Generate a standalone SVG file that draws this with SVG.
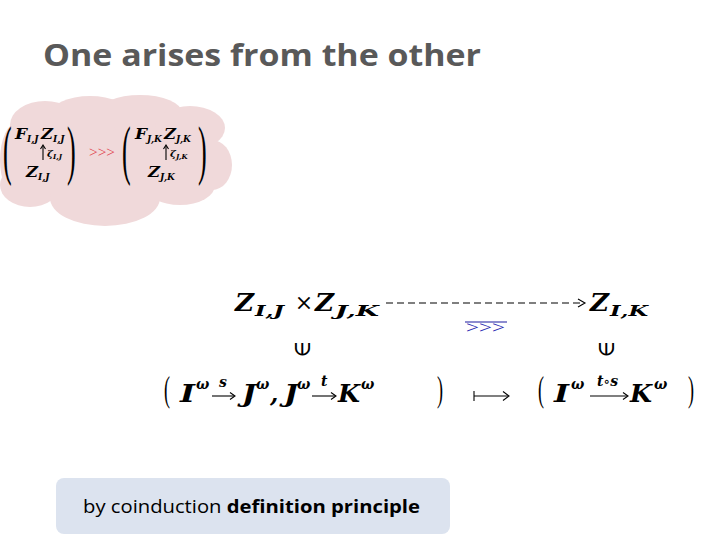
<svg xmlns="http://www.w3.org/2000/svg" width="720" height="540" viewBox="0 0 720 540">
<style>
.title{font-family:"Open Sans","Liberation Sans",sans-serif;font-weight:bold;font-size:30px;fill:#595959}
.m{font-family:"DejaVu Serif","Liberation Serif",serif;font-weight:bold;font-style:italic;fill:#000}
.r{font-family:"DejaVu Serif","Liberation Serif",serif;fill:#000}
.big{font-size:24px}
.sub{font-size:15px}
.sup{font-size:14px}
.cm{font-size:14px}
.cs{font-size:9px}
.par{font-family:"Liberation Serif",serif;font-weight:normal;fill:#000}
.ln{stroke:#000;stroke-width:1.1;fill:none}
.cap{font-family:"Open Sans","Liberation Sans",sans-serif;font-size:18px;fill:#000}
</style>
<rect width="720" height="540" fill="#fff"/>
<text class="title" x="43" y="66" textLength="438" lengthAdjust="spacingAndGlyphs">One arises from the other</text>

<g id="cloud">
<g fill="#f0d9da">
<ellipse cx="115" cy="158" rx="108" ry="45"/>
<ellipse cx="45" cy="125" rx="35" ry="24"/>
<ellipse cx="90" cy="115" rx="40" ry="19"/>
<ellipse cx="140" cy="113" rx="42" ry="18"/>
<ellipse cx="190" cy="128" rx="35" ry="22"/>
<ellipse cx="212" cy="165" rx="20" ry="25"/>
<ellipse cx="18" cy="160" rx="18" ry="38"/>
<ellipse cx="30" cy="185" rx="30" ry="22"/>
<ellipse cx="105" cy="198" rx="55" ry="28"/>
<ellipse cx="180" cy="185" rx="35" ry="20"/>
</g>
<g>
<text class="par" x="0" y="0" font-size="26" transform="translate(3,172) scale(1,2.5)">(</text>
<text class="m cm" x="15" y="139" textLength="12" lengthAdjust="spacingAndGlyphs">F</text>
<text class="m cs" x="27" y="142">I,J</text>
<text class="m cm" x="41" y="139" textLength="12" lengthAdjust="spacingAndGlyphs">Z</text>
<text class="m cs" x="53" y="142">I,J</text>
<line class="ln" x1="43" y1="160" x2="43" y2="146" stroke-width="0.8"/>
<path d="M40.5,149 L43,145 L45.5,149" class="ln" stroke-width="0.8"/>
<text class="m" x="47" y="157" font-size="10">ζ</text>
<text class="m" x="53" y="159" font-size="7">I,J</text>
<text class="m cm" x="26" y="177" textLength="12" lengthAdjust="spacingAndGlyphs">Z</text>
<text class="m cs" x="38" y="180">I,J</text>
<text class="par" x="0" y="0" font-size="26" transform="translate(67,172) scale(1,2.5)">)</text>
<text x="89" y="157" font-family="Liberation Serif,serif" font-size="14" fill="#e0404a" textLength="26" lengthAdjust="spacingAndGlyphs">&gt;&gt;&gt;</text>
<text class="par" x="0" y="0" font-size="26" transform="translate(122,172) scale(1,2.5)">(</text>
<text class="m cm" x="135" y="139" textLength="12" lengthAdjust="spacingAndGlyphs">F</text>
<text class="m cs" x="147" y="142">J,K</text>
<text class="m cm" x="164" y="139" textLength="12" lengthAdjust="spacingAndGlyphs">Z</text>
<text class="m cs" x="176" y="142">J,K</text>
<line class="ln" x1="166" y1="160" x2="166" y2="146" stroke-width="0.8"/>
<path d="M163.5,149 L166,145 L168.5,149" class="ln" stroke-width="0.8"/>
<text class="m" x="170" y="157" font-size="10">ζ</text>
<text class="m" x="176" y="159" font-size="7">J,K</text>
<text class="m cm" x="148" y="177" textLength="12" lengthAdjust="spacingAndGlyphs">Z</text>
<text class="m cs" x="160" y="180">J,K</text>
<text class="par" x="0" y="0" font-size="26" transform="translate(198,172) scale(1,2.5)">)</text>
</g>
</g>

<g id="top-left">
<text class="m big" x="235" y="311" textLength="19" lengthAdjust="spacingAndGlyphs">Z</text>
<text class="m sub" x="255" y="316" textLength="29" lengthAdjust="spacingAndGlyphs">I,J</text>
<text class="r" x="304" y="310" font-size="22" text-anchor="middle">×</text>
<text class="m big" x="315" y="311" textLength="19" lengthAdjust="spacingAndGlyphs">Z</text>
<text class="m sub" x="335" y="316" textLength="44" lengthAdjust="spacingAndGlyphs">J,K</text>
</g>
<g id="top-right">
<text class="m big" x="590" y="311" textLength="19" lengthAdjust="spacingAndGlyphs">Z</text>
<text class="m sub" x="610" y="316" textLength="38" lengthAdjust="spacingAndGlyphs">I,K</text>
</g>

<g id="connectors">
<line x1="386" y1="303" x2="580" y2="303" stroke="#000" stroke-width="1.1" stroke-dasharray="7,4"/>
<path d="M578,299 L585,303 L578,307" class="ln"/>
<line x1="465" y1="322" x2="507" y2="322" stroke="#1a1aa0" stroke-width="1.2"/>
<text x="466" y="333" font-family="Liberation Serif,serif" font-size="17" fill="#2a2ab0" textLength="39" lengthAdjust="spacingAndGlyphs">&gt;&gt;&gt;</text>
</g>

<g id="in-symbols">
<text class="r" x="0" y="0" font-size="24" transform="translate(310,349) rotate(-90)" text-anchor="middle">∈</text>
<text class="r" x="0" y="0" font-size="24" transform="translate(614,349) rotate(-90)" text-anchor="middle">∈</text>
</g>

<g id="bottom-left">
<text class="par" x="0" y="0" font-size="18" transform="translate(164,401) scale(1,2)">(</text>
<text class="m big" x="180" y="402" textLength="15" lengthAdjust="spacingAndGlyphs">I</text>
<text class="m sup" x="196" y="389">ω</text>
<line class="ln" x1="212" y1="396" x2="234" y2="396"/>
<path d="M230,392.5 L235,396 L230,399.5" class="ln"/>
<text class="m" x="219" y="387" font-size="14">s</text>
<text class="m big" x="242" y="402" textLength="14" lengthAdjust="spacingAndGlyphs">J</text>
<text class="m sup" x="256" y="389">ω</text>
<text class="m big" x="270" y="402">,</text>
<text class="m big" x="284" y="402" textLength="14" lengthAdjust="spacingAndGlyphs">J</text>
<text class="m sup" x="297" y="389">ω</text>
<line class="ln" x1="312" y1="396" x2="335" y2="396"/>
<path d="M331,392.5 L336,396 L331,399.5" class="ln"/>
<text class="m" x="321" y="386" font-size="14">t</text>
<text class="m big" x="338" y="402" textLength="22" lengthAdjust="spacingAndGlyphs">K</text>
<text class="m sup" x="361" y="389">ω</text>
<text class="par" x="0" y="0" font-size="18" transform="translate(437,401) scale(1,2)">)</text>
</g>

<g id="mapsto">
<line class="ln" x1="474" y1="391" x2="474" y2="401"/>
<line class="ln" x1="474" y1="396" x2="508" y2="396"/>
<path d="M503,391.5 L509,396 L503,400.5" class="ln"/>
</g>

<g id="bottom-right">
<text class="par" x="0" y="0" font-size="18" transform="translate(538,401) scale(1,2)">(</text>
<text class="m big" x="554" y="402" textLength="15" lengthAdjust="spacingAndGlyphs">I</text>
<text class="m sup" x="571" y="389">ω</text>
<line class="ln" x1="590" y1="396" x2="627" y2="396"/>
<path d="M623,392.5 L628,396 L623,399.5" class="ln"/>
<text class="m" x="597" y="386" font-size="14">t<tspan class="r" font-style="normal" font-weight="normal">∘</tspan>s</text>
<text class="m big" x="630" y="402" textLength="22" lengthAdjust="spacingAndGlyphs">K</text>
<text class="m sup" x="654" y="389">ω</text>
<text class="par" x="0" y="0" font-size="18" transform="translate(688,401) scale(1,2)">)</text>
</g>

<g id="caption">
<rect x="56" y="478" width="394" height="56" rx="8" fill="#dce3ef"/>
<text class="cap" x="83" y="513" textLength="337" lengthAdjust="spacingAndGlyphs">by coinduction <tspan font-weight="bold">definition principle</tspan></text>
</g>
</svg>
